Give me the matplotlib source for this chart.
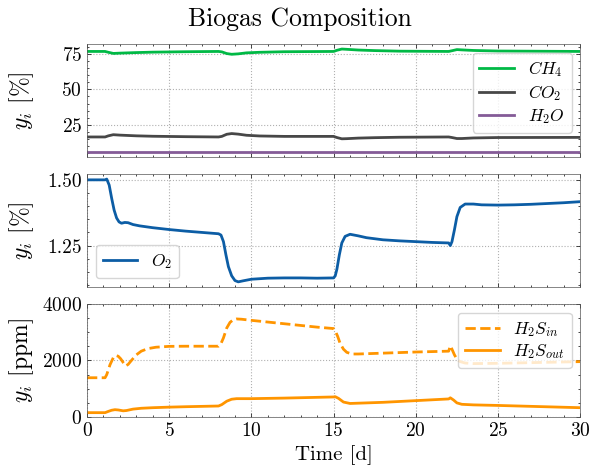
import numpy as np
import matplotlib
matplotlib.use("Agg")
import matplotlib.pyplot as plt
from matplotlib.ticker import AutoMinorLocator, FormatStrFormatter

plt.rcParams.update({
    "font.family": "serif",
    "font.serif": ["cmr10"],
    "mathtext.fontset": "cm",
    "axes.unicode_minus": False,
    "axes.formatter.use_mathtext": True,
    "xtick.direction": "in",
    "ytick.direction": "in",
    "xtick.top": True,
    "ytick.right": True,
    "xtick.minor.visible": True,
    "ytick.minor.visible": True,
    "xtick.major.size": 3,
    "ytick.major.size": 3,
    "xtick.minor.size": 1.5,
    "ytick.minor.size": 1.5,
    "xtick.major.width": 0.5,
    "ytick.major.width": 0.5,
    "xtick.minor.width": 0.5,
    "ytick.minor.width": 0.5,
    "axes.linewidth": 0.5,
    "xtick.labelsize": 14,
    "ytick.labelsize": 14,
    "axes.labelsize": 15,
    "legend.fontsize": 12.5,
    "legend.labelspacing": 0.22,
})

# ---- data ----
t_ch4 = [0, 1.1, 1.3, 1.6, 2, 3, 4, 6, 8, 8.2, 8.5, 8.8, 9.2, 9.7, 10.5, 12, 15, 15.2,
         15.5, 15.8, 16.5, 17.5, 19, 22, 22.2, 22.5, 22.8, 23.5, 25, 30]
ch4 = [76.8, 76.8, 76.2, 75.4, 75.6, 76.0, 76.3, 76.6, 76.8, 76.5, 75.3, 74.8, 75.1, 75.8,
       76.2, 76.6, 76.8, 77.6, 78.5, 78.3, 77.8, 77.4, 77.0, 76.8, 77.3, 78.1, 77.9, 77.5,
       77.1, 76.8]
t_co2 = t_ch4
co2 = [16.4, 16.4, 17.2, 18.0, 17.7, 17.2, 16.9, 16.6, 16.4, 16.8, 18.3, 18.8, 18.4, 17.6,
       17.1, 16.8, 16.8, 16.0, 15.1, 15.2, 15.6, 15.9, 16.2, 16.4, 16.0, 15.3, 15.3, 15.7,
       16.0, 16.1]
t_h2o = [0, 30]
h2o = [5.9, 5.9]

t_o2 = [0, 1.1, 1.2, 1.35, 1.5, 1.65, 1.8, 1.95, 2.1, 2.3, 2.5, 2.8, 3.2, 4, 5, 6, 7, 8,
        8.15, 8.3, 8.45, 8.6, 8.8, 9.0, 9.2, 9.5, 10, 11, 12, 13, 14, 15, 15.1, 15.2, 15.35,
        15.5, 15.7, 16, 16.5, 17, 18, 19, 20, 21, 22, 22.1, 22.2, 22.35, 22.5, 22.7, 23,
        23.5, 24, 25, 26, 27, 28, 29, 30]
o2 = [1.5, 1.5, 1.503, 1.48, 1.43, 1.385, 1.355, 1.34, 1.335, 1.338, 1.337, 1.33, 1.325,
      1.318, 1.311, 1.305, 1.30, 1.295, 1.29, 1.265, 1.215, 1.17, 1.135, 1.117, 1.112,
      1.116, 1.122, 1.126, 1.127, 1.127, 1.126, 1.127, 1.135, 1.16, 1.215, 1.26, 1.285,
      1.293, 1.287, 1.28, 1.272, 1.268, 1.265, 1.262, 1.26, 1.25, 1.265, 1.31, 1.36,
      1.395, 1.408, 1.408, 1.405, 1.404, 1.405, 1.407, 1.41, 1.413, 1.417]

t_h2s_in = [0, 1.1, 1.2, 1.4, 1.6, 1.75, 1.9, 2.05, 2.2, 2.35, 2.5, 2.7, 3.0, 3.3, 3.7, 4.2,
            5, 6, 8, 8.15, 8.3, 8.5, 8.7, 8.9, 9.1, 9.4, 10, 11, 12, 13, 14, 15, 15.1,
            15.25, 15.4, 15.6, 15.8, 16.1, 16.5, 18, 20, 22, 22.1, 22.2, 22.35, 22.5, 22.7,
            23, 23.5, 25, 30]
h2s_in = [1390, 1390, 1500, 1850, 2100, 2180, 2150, 2060, 1930, 1810, 1860, 2000, 2200,
          2330, 2420, 2470, 2500, 2505, 2505, 2600, 2800, 3150, 3350, 3440, 3470, 3460,
          3420, 3360, 3300, 3240, 3180, 3130, 3050, 2850, 2600, 2400, 2290, 2230, 2230,
          2260, 2300, 2330, 2520, 2400, 2200, 2050, 1960, 1910, 1890, 1900, 1960]
t_h2s_out = [0, 1.1, 1.3, 1.5, 1.7, 1.9, 2.2, 2.4, 2.8, 3.3, 4, 5, 6, 8, 8.2, 8.5, 8.8, 9.1,
             10, 12, 15, 15.1, 15.3, 15.6, 16, 18, 20, 22, 22.1, 22.3, 22.5, 22.8, 23.5,
             25, 30]
h2s_out = [155, 155, 200, 240, 260, 250, 220, 230, 280, 310, 330, 350, 365, 390, 440, 560,
           630, 650, 650, 670, 710, 720, 660, 530, 480, 520, 580, 640, 680, 600, 500, 450,
           430, 410, 330]

C_BLUE, C_GREEN, C_ORANGE, C_PURPLE, C_GRAY = "#0C5DA5", "#00B945", "#FF9500", "#845B97", "#474747"
LW = 2.0
YLAB = 17

fig, axes = plt.subplots(3, 1, figsize=(6.0, 4.67), dpi=100, sharex=True)
fig.subplots_adjust(left=0.145, right=0.967, top=0.906, bottom=0.107, hspace=0.15)
ax1, ax2, ax3 = axes

ax1.plot(t_ch4, ch4, color=C_GREEN, lw=LW, label=r"$CH_4$")
ax1.plot(t_co2, co2, color=C_GRAY, lw=LW, label=r"$CO_2$")
ax1.plot(t_h2o, h2o, color=C_PURPLE, lw=LW, label=r"$H_2O$")
ax1.set_yticks([25, 50, 75])
ax1.set_ylabel(r"$y_i$ [%]", fontsize=YLAB)
ax1.legend(loc="upper right")

ax2.plot(t_o2, o2, color=C_BLUE, lw=LW, label=r"$O_2$")
ax2.set_yticks([1.25, 1.5])
ax2.yaxis.set_major_formatter(FormatStrFormatter("%.2f"))
ax2.set_ylabel(r"$y_i$ [%]", fontsize=YLAB)
ax2.legend(loc="lower left")

ax3.plot(t_h2s_in, h2s_in, color=C_ORANGE, lw=LW, ls="--", label=r"$H_2S_{in}$")
ax3.plot(t_h2s_out, h2s_out, color=C_ORANGE, lw=LW, label=r"$H_2S_{out}$")
ax3.set_ylim(0, 4000)
ax3.set_yticks([0, 2000, 4000])
ax3.set_ylabel(r"$y_i$ [ppm]", fontsize=YLAB)
ax3.set_xlabel("Time [d]")
ax3.legend(loc="upper right")
ax3.set_xlim(0, 30)
ax3.set_xticks([0, 5, 10, 15, 20, 25, 30])

for ax in axes:
    ax.grid(True, which="major", linestyle=":", color="#b0b0b0", linewidth=0.8)
    ax.xaxis.set_minor_locator(AutoMinorLocator())
    ax.yaxis.set_minor_locator(AutoMinorLocator())
    for s in ax.spines.values():
        s.set_color("#555555")

fig.align_ylabels(axes)
fig.suptitle("Biogas Composition", fontsize=18.5, y=0.985)
fig.savefig("out.png", dpi=100)
